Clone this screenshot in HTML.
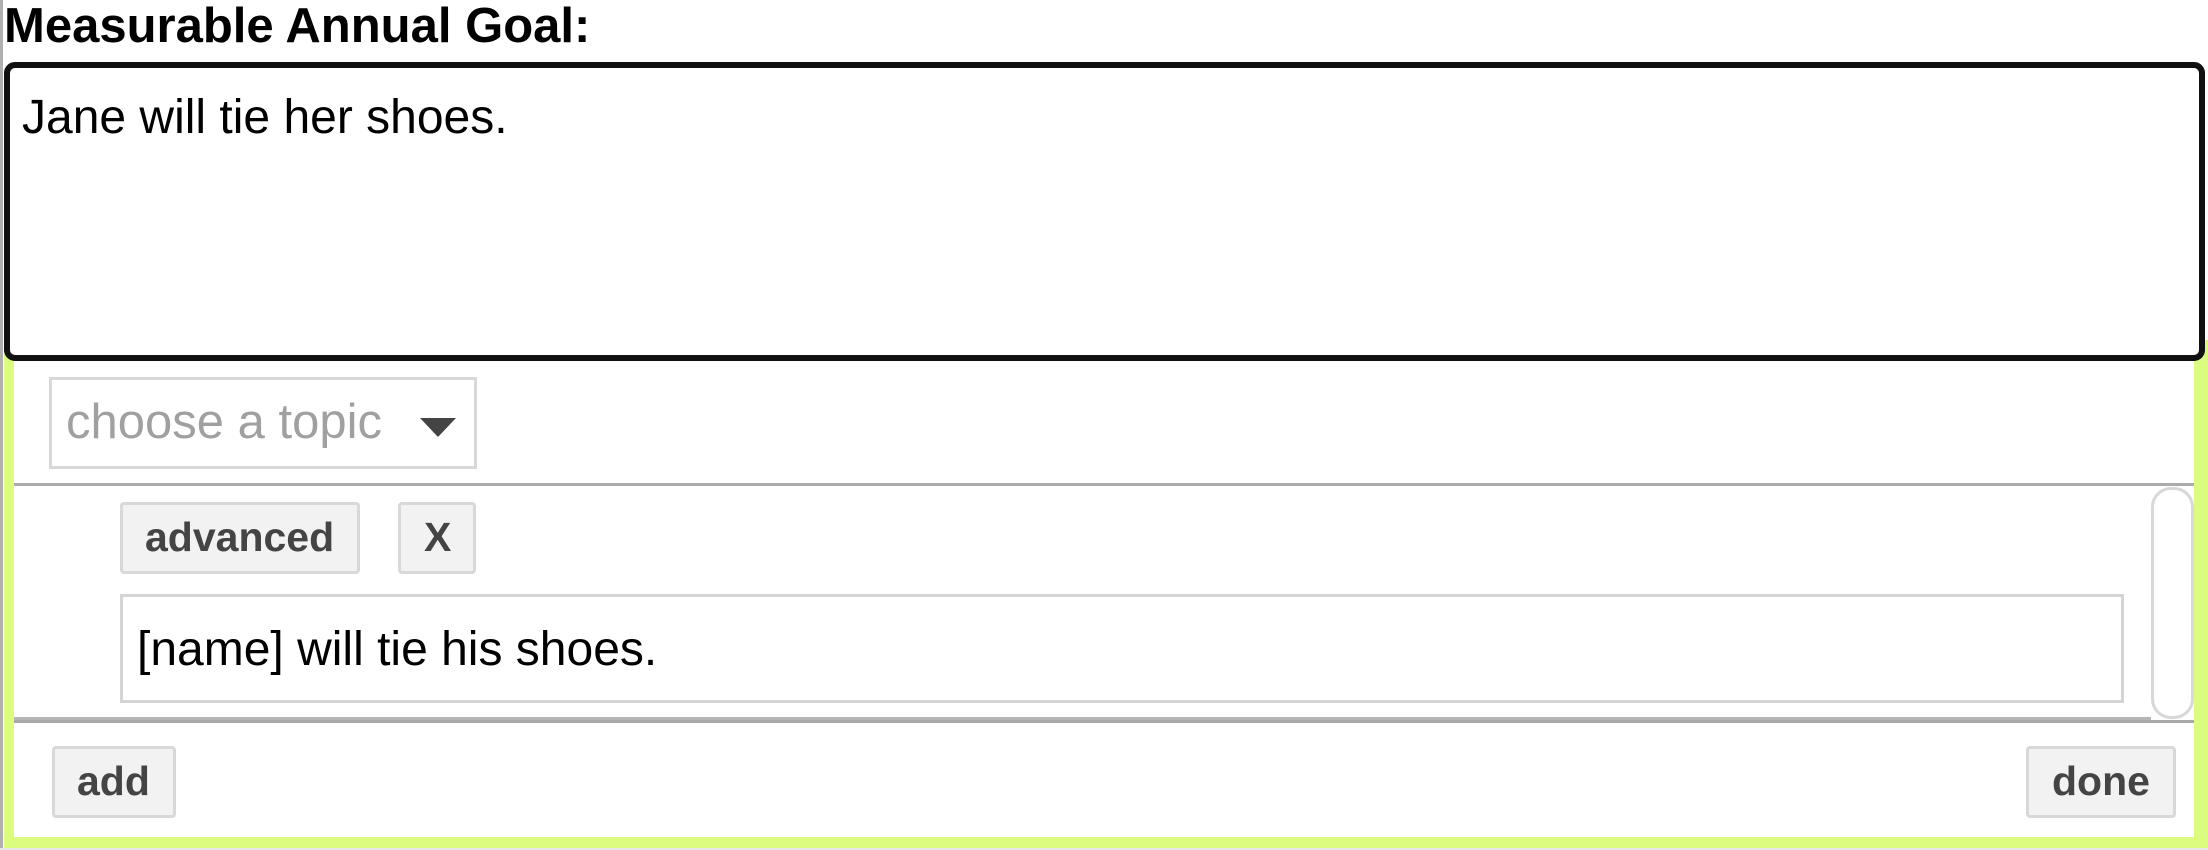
<!DOCTYPE html>
<html><head><meta charset="utf-8"><style>
html,body{margin:0;padding:0;width:2208px;height:850px;overflow:hidden;background:#fff;font-family:"Liberation Sans",Arial,sans-serif;}
.a{position:absolute;box-sizing:border-box;}
.t{position:absolute;line-height:1;white-space:nowrap;}
.btn{position:absolute;box-sizing:border-box;background:#f2f2f2;border:3px solid #d8d8d8;border-radius:4px;}
</style></head><body>
<div class="a" style="left:0;top:0;width:3px;height:850px;background:#b0b0b0"></div>
<div class="a" style="left:0;top:848px;width:2208px;height:2px;background:#e6e6e6"></div>
<!-- green panel -->
<div class="a" style="left:4px;top:340px;width:2204px;height:508px;background:#dbfc7f"></div>
<div class="a" style="left:14px;top:340px;width:2180px;height:497px;background:#fff"></div>
<!-- title -->
<div class="t" style="left:4px;top:2px;font-size:49px;font-weight:bold;color:#000">Measurable Annual Goal:</div>
<!-- textarea -->
<div class="a" style="left:4px;top:62px;width:2201px;height:299px;border:6px solid #111;border-radius:11px;background:#fff"></div>
<div class="t" style="left:22px;top:94px;font-size:48px;color:#000">Jane will tie her shoes.</div>
<!-- select -->
<div class="a" style="left:49px;top:377px;width:428px;height:92px;border:3px solid #d8d8d8;background:#fff"></div>
<div class="t" style="left:66px;top:398px;font-size:49px;color:#a0a0a0">choose a topic</div>
<div class="a" style="left:420px;top:418px;width:0;height:0;border-left:18px solid transparent;border-right:18px solid transparent;border-top:19px solid #444"></div>
<!-- lines -->
<div class="a" style="left:14px;top:483px;width:2180px;height:3px;background:#ababab"></div>
<div class="a" style="left:14px;top:717px;width:2137px;height:3px;background:#b5b5b5"></div>
<div class="a" style="left:14px;top:720px;width:2180px;height:3px;background:#a8a8a8"></div>
<!-- buttons -->
<div class="btn" style="left:120px;top:502px;width:240px;height:72px"></div>
<div class="t" style="left:145px;top:517px;font-size:41px;font-weight:bold;color:#444">advanced</div>
<div class="btn" style="left:398px;top:502px;width:78px;height:72px"></div>
<div class="t" style="left:424px;top:517px;font-size:41px;font-weight:bold;color:#444">X</div>
<!-- input -->
<div class="a" style="left:120px;top:594px;width:2004px;height:109px;border:3px solid #d4d4d4;background:#fff"></div>
<div class="t" style="left:137px;top:626px;font-size:48px;color:#000">[name] will tie his shoes.</div>
<!-- scrollbar -->
<div class="a" style="left:2151px;top:487px;width:43px;height:232px;border:3px solid #d8d8d8;border-radius:20px;background:#fff"></div>
<!-- add / done -->
<div class="btn" style="left:52px;top:746px;width:124px;height:72px"></div>
<div class="t" style="left:77px;top:761px;font-size:41px;font-weight:bold;color:#444">add</div>
<div class="btn" style="left:2026px;top:746px;width:150px;height:72px"></div>
<div class="t" style="left:2052px;top:761px;font-size:41px;font-weight:bold;color:#444">done</div>
</body></html>
